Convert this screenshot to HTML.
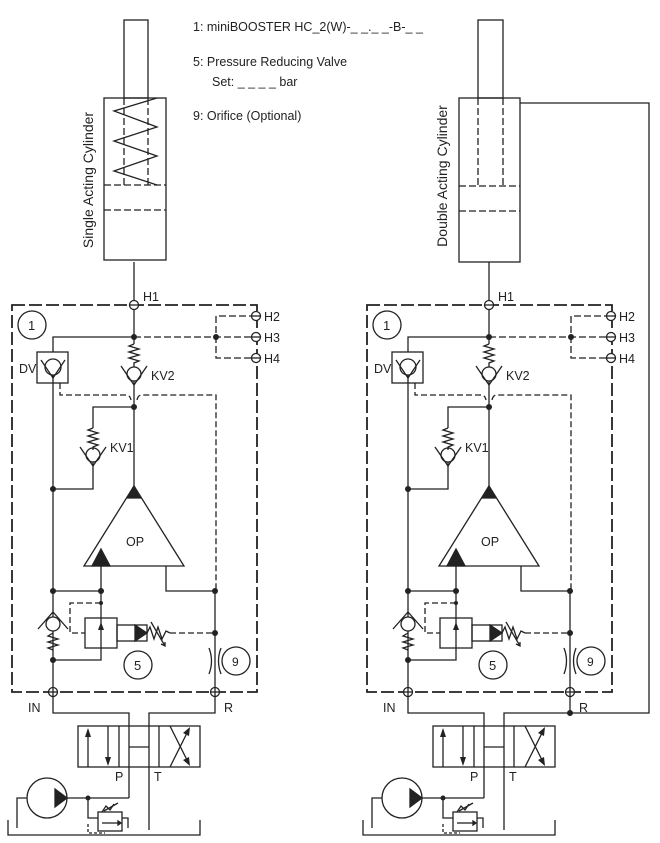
<!DOCTYPE html>
<html><head><meta charset="utf-8"><style>
html,body{margin:0;padding:0;background:#fff}
svg{display:block}
text{font-family:"Liberation Sans","DejaVu Sans",sans-serif;fill:#222}
</style></head><body>
<svg width="660" height="843" viewBox="0 0 660 843" xmlns="http://www.w3.org/2000/svg">
<defs>
<g id="sys" fill="none" stroke="#222" stroke-width="1.3">
  <rect x="12" y="305" width="245" height="387" stroke-width="1.8" stroke-dasharray="13,4"/>
  <line x1="134" y1="262" x2="134" y2="337"/>
  <circle cx="134" cy="305" r="4.5" fill="#fff"/><line x1="130" y1="305" x2="138" y2="305"/>
  <polyline points="53,352 53,337 134,337"/>
  <line x1="134" y1="337" x2="256" y2="337" stroke-dasharray="7,3"/>
  <polyline points="256,316 216,316 216,358 256,358" stroke-dasharray="7,3"/>
  <circle cx="134" cy="337" r="3" fill="#222" stroke="none"/>
  <circle cx="216" cy="337" r="3" fill="#222" stroke="none"/>
  <circle cx="256" cy="316" r="4.5" fill="#fff"/><line x1="252" y1="316" x2="260" y2="316"/>
  <circle cx="256" cy="337" r="4.5" fill="#fff"/><line x1="252" y1="337" x2="260" y2="337"/>
  <circle cx="256" cy="358" r="4.5" fill="#fff"/><line x1="252" y1="358" x2="260" y2="358"/>
  <rect x="37" y="352" width="31" height="31"/>
  <circle cx="53" cy="367" r="8"/>
  <polyline points="41,360 53,378 65,360"/>
  <line x1="53" y1="375" x2="53" y2="692"/>
  <line x1="134" y1="337" x2="134" y2="344"/>
  <polyline points="134,344 129,346 139,349 129,352 139,355 129,358 139,361 134,363 134,367"/>
  <circle cx="134" cy="374" r="7"/>
  <polyline points="121,366 134,385 147,366"/>
  <line x1="134" y1="381" x2="134" y2="486"/>
  <circle cx="134" cy="407" r="3" fill="#222" stroke="none"/>
  <path d="M60,383 V395 H126 Q130,395 131,400 M137,400 Q138,395 142,395 H216 V591" stroke-dasharray="6,3"/>
  <polyline points="134,407 93,407 93,428"/>
  <polyline points="93,428 88,430 98,433 88,436 98,439 88,442 98,445 93,447 93,450"/>
  <circle cx="93" cy="455" r="7"/>
  <polyline points="80,447 93,466 106,447"/>
  <polyline points="93,462 93,489 53,489"/>
  <circle cx="53" cy="489" r="3" fill="#222" stroke="none"/>
  <polygon points="134,486 84,566 184,566"/>
  <polygon points="134,486 127,498 141,498" fill="#222"/>
  <polygon points="101,549 92,566 110,566" fill="#222"/>
  <polyline points="166,566 166,591 215,591"/>
  <line x1="215" y1="591" x2="215" y2="692"/>
  <circle cx="215" cy="591" r="3" fill="#222" stroke="none"/>
  <polyline points="53,591 101,591"/>
  <polyline points="101,566 101,660 53,660"/>
  <circle cx="53" cy="591" r="3" fill="#222" stroke="none"/>
  <circle cx="101" cy="591" r="3" fill="#222" stroke="none"/>
  <circle cx="53" cy="660" r="3" fill="#222" stroke="none"/>
  <circle cx="101" cy="603" r="2" fill="#222" stroke="none"/>
  <polyline points="101,603 70,603 70,633 85,633" stroke-dasharray="6,3"/>
  <rect x="85" y="618" width="32" height="30" fill="#fff"/>
  <line x1="101" y1="618" x2="101" y2="648"/>
  <polygon points="101,622 98,630 104,630" fill="#222" stroke="none"/>
  <rect x="117" y="625" width="30" height="16"/>
  <polygon points="135,625 147,633 135,641" fill="#222"/>
  <polyline points="147,633 150,627 154,639 158,627 162,639 166,631 170,633"/>
  <line x1="151" y1="622" x2="165" y2="646"/><polyline points="161,644 165,646 165,642"/>
  <line x1="170" y1="633" x2="215" y2="633" stroke-dasharray="6,3"/>
  <circle cx="215" cy="633" r="3" fill="#222" stroke="none"/>
  <circle cx="53" cy="624" r="7" fill="#fff"/>
  <polyline points="38,629 53,612 68,629"/>
  <polyline points="53,633 48,636 58,639 48,642 58,645 48,648 53,650"/>
  <circle cx="138" cy="665" r="14"/>
  <circle cx="236" cy="661" r="14"/>
  <path d="M209,648 Q214,661 209,674 M221,648 Q216,661 221,674"/>
  <circle cx="53" cy="692" r="4.5" fill="#fff"/><line x1="48.5" y1="692" x2="57.5" y2="692"/><line x1="53" y1="687.5" x2="53" y2="696.5"/>
  <circle cx="215" cy="692" r="4.5" fill="#fff"/><line x1="210.5" y1="692" x2="219.5" y2="692"/><line x1="215" y1="687.5" x2="215" y2="696.5"/>
  <polyline points="53,696 53,713 129,713 129,798"/>
  <polyline points="215,696 215,713 149,713 149,830"/>
  <rect x="78" y="726" width="122" height="41" fill="none"/>
  <line x1="119" y1="726" x2="119" y2="767"/>
  <line x1="159" y1="726" x2="159" y2="767"/>
  <line x1="129" y1="747" x2="149" y2="747"/>
  <line x1="88" y1="767" x2="88" y2="730"/><polygon points="88,728 85,737 91,737" fill="#222" stroke="none"/>
  <line x1="108" y1="726" x2="108" y2="763"/><polygon points="108,766 105,757 111,757" fill="#222" stroke="none"/>
  <line x1="170" y1="767" x2="189" y2="729"/><polygon points="190,727 183,733 189,736" fill="#222" stroke="none"/>
  <line x1="170" y1="726" x2="189" y2="764"/><polygon points="190,766 183,760 189,757" fill="#222" stroke="none"/>
  <circle cx="47" cy="798" r="20"/>
  <polygon points="55,789 67,798 55,807" fill="#222"/>
  <line x1="67" y1="798" x2="129" y2="798"/>
  <circle cx="88" cy="798" r="2.5" fill="#222" stroke="none"/>
  <polyline points="27,798 17,798 17,828"/>
  <polyline points="8,820 8,835 200,835 200,820"/>
  <polyline points="88,798 88,818 98,818"/>
  <rect x="98" y="812" width="24" height="19"/>
  <line x1="102" y1="823" x2="118" y2="823"/><polygon points="118,821 118,825 121,823" fill="#222"/>
  <polyline points="122,818 128,818 128,828"/>
  <polyline points="88,824 88,833 105,833" stroke-dasharray="3,2"/>
  <polyline points="102,812 106,806 110,810 114,804"/>
  <line x1="104" y1="811" x2="118" y2="803"/>
</g>
</defs>

<g fill="none" stroke="#222" stroke-width="1.3">
  <rect x="124" y="20" width="24" height="78"/>
  <rect x="104" y="98" width="62" height="162"/>
  <line x1="124" y1="98" x2="124" y2="185" stroke-dasharray="7,3"/>
  <line x1="148" y1="98" x2="148" y2="185" stroke-dasharray="7,3"/>
  <line x1="104" y1="185" x2="166" y2="185" stroke-dasharray="7,3"/>
  <line x1="104" y1="210" x2="166" y2="210" stroke-dasharray="7,3"/>
  <polyline points="157,98 114,111 157,127 114,141 157,156 114,171 157,185"/>
  <rect x="478" y="20" width="25" height="78"/>
  <rect x="459" y="98" width="61" height="164"/>
  <line x1="478" y1="98" x2="478" y2="186" stroke-dasharray="7,3"/>
  <line x1="503" y1="98" x2="503" y2="186" stroke-dasharray="7,3"/>
  <line x1="459" y1="186" x2="520" y2="186" stroke-dasharray="7,3"/>
  <line x1="459" y1="211" x2="520" y2="211" stroke-dasharray="7,3"/>
  <polyline points="520,103 649,103 649,713 570,713"/>
  <circle cx="570" cy="713" r="3" fill="#222" stroke="none"/>
</g>
<use href="#sys"/>
<use href="#sys" transform="translate(355,0)"/>

<g font-size="12.5">
  <text x="193" y="31">1: miniBOOSTER HC_2(W)-_ _._ _-B-_ _</text>
  <text x="193" y="66">5: Pressure Reducing Valve</text>
  <text x="212" y="86">Set: _ _ _ _ bar</text>
  <text x="193" y="120">9: Orifice (Optional)</text>
  <text transform="translate(93,180) rotate(-90)" text-anchor="middle" font-size="14">Single Acting Cylinder</text>
  <text transform="translate(447,176) rotate(-90)" text-anchor="middle" font-size="14">Double Acting Cylinder</text>
</g>
<g font-size="12.5">
  <text x="143" y="301">H1</text><text x="264" y="321">H2</text><text x="264" y="342">H3</text><text x="264" y="363">H4</text>
  <text x="19" y="373">DV</text><text x="151" y="380">KV2</text><text x="110" y="452">KV1</text>
  <text x="126" y="546">OP</text><text x="134" y="670" font-size="13">5</text><text x="232" y="666" font-size="12">9</text>
  <text x="28" y="712">IN</text><text x="224" y="712">R</text>
  <text x="115" y="781">P</text><text x="154" y="781">T</text>
  <text x="28" y="330" font-size="13">1</text>
</g>
<g font-size="12.5" transform="translate(355,0)">
  <text x="143" y="301">H1</text><text x="264" y="321">H2</text><text x="264" y="342">H3</text><text x="264" y="363">H4</text>
  <text x="19" y="373">DV</text><text x="151" y="380">KV2</text><text x="110" y="452">KV1</text>
  <text x="126" y="546">OP</text><text x="134" y="670" font-size="13">5</text><text x="232" y="666" font-size="12">9</text>
  <text x="28" y="712">IN</text><text x="224" y="712">R</text>
  <text x="115" y="781">P</text><text x="154" y="781">T</text>
  <text x="28" y="330" font-size="13">1</text>
</g>
<g fill="none" stroke="#222" stroke-width="1.3">
  <circle cx="32" cy="325" r="14"/>
  <circle cx="387" cy="325" r="14"/>
</g>
</svg>
</body></html>
